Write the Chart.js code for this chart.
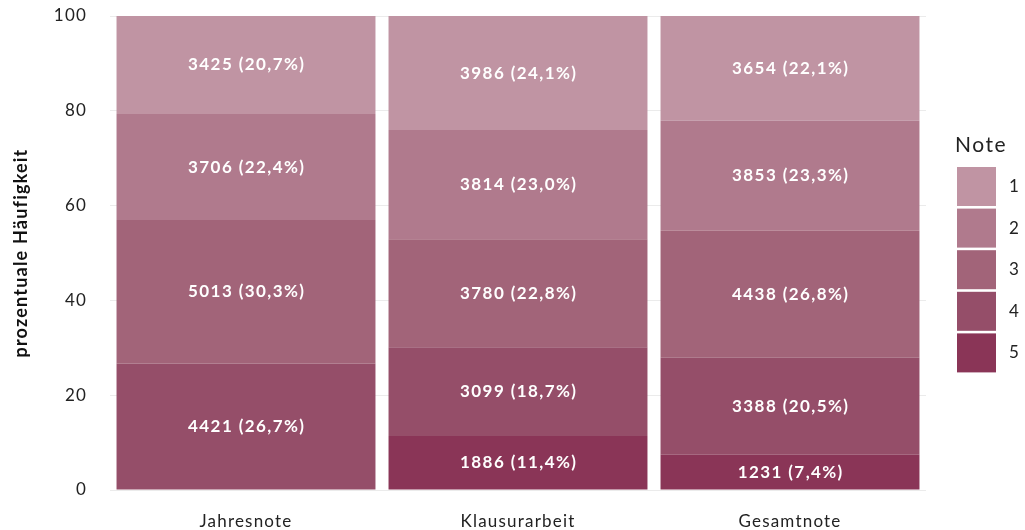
<!DOCTYPE html>
<html><head><meta charset="utf-8">
<script src="https://cdn.jsdelivr.net/npm/chart.js@4"></script>
<style>html,body{margin:0;padding:0;background:#fff}#wrap{width:1025px;height:530px}</style>
</head><body><div id="wrap"><canvas id="c" width="1025" height="530"></canvas></div>
<script>
const categories = ['Jahresnote', 'Klausurarbeit', 'Gesamtnote'];
const noten = ['5', '4', '3', '2', '1'];
const note5 = [0, 1886, 1231];
const note4 = [4421, 3099, 3388];
const note3 = [5013, 3780, 4438];
const note2 = [3706, 3814, 3853];
const note1 = [3425, 3986, 3654];
const yTicks = [0, 20, 40, 60, 80, 100];
const colors = ['#8a3557', '#954e69', '#a26479', '#b07a8d', '#c094a3'];

const counts = [note5, note4, note3, note2, note1];
const totals = categories.map((_, i) => counts.reduce((s, a) => s + a[i], 0));
const FONT = 'Lato, "DejaVu Sans", sans-serif';

const datasets = counts.map((arr, k) => ({
  label: noten[k],
  data: arr.map((v, i) => v / totals[i] * 100),
  counts: arr,
  backgroundColor: colors[k],
  borderWidth: 0,
  barPercentage: 0.952,
  categoryPercentage: 1.0
}));

const spacingPlugin = {
  id: 'spacing',
  beforeDraw(chart) { chart.ctx.letterSpacing = '1.2px'; }
};

const labelPlugin = {
  id: 'segLabels',
  afterDatasetsDraw(chart) {
    const ctx = chart.ctx;
    ctx.save();
    ctx.letterSpacing = '1.4px';
    ctx.font = 'bold 17px ' + FONT;
    ctx.fillStyle = '#ffffff';
    ctx.textAlign = 'center';
    ctx.textBaseline = 'middle';
    chart.data.datasets.forEach((ds, di) => {
      const meta = chart.getDatasetMeta(di);
      meta.data.forEach((el, i) => {
        const c = ds.counts[i];
        if (!c) return;
        const pct = (ds.data[i]).toFixed(1).replace('.', ',');
        ctx.fillText(c + ' (' + pct + '%)', el.x + 0.7, (el.y + el.base) / 2);
      });
    });
    ctx.restore();
  }
};

const legendPlugin = {
  id: 'customLegend',
  afterDraw(chart) {
    const ctx = chart.ctx;
    ctx.save();
    ctx.fillStyle = '#222';
    ctx.letterSpacing = '1.5px';
    ctx.font = '21px ' + FONT;
    ctx.textAlign = 'left';
    ctx.textBaseline = 'middle';
    ctx.fillText('Note', 955, 145);
    const dss = chart.data.datasets.slice().reverse();
    ctx.letterSpacing = '0px';
    ctx.font = '17px ' + FONT;
    dss.forEach((ds, i) => {
      const y = 167 + i * 41.6;
      ctx.fillStyle = ds.backgroundColor;
      ctx.fillRect(957, y, 39, 39);
      ctx.fillStyle = '#222';
      ctx.fillText(ds.label, 1009, y + 19.5);
    });
    ctx.restore();
  }
};

new Chart(document.getElementById('c'), {
  type: 'bar',
  data: { labels: categories, datasets },
  plugins: [spacingPlugin, labelPlugin, legendPlugin],
  options: {
    responsive: false,
    animation: false,
    layout: { padding: { top: 16, right: 99, left: 0, bottom: 0 } },
    plugins: { legend: { display: false }, tooltip: { enabled: false } },
    scales: {
      x: {
        stacked: true,
        grid: { display: false, drawTicks: false },
        border: { display: false },
        ticks: { color: '#222', font: { family: FONT, size: 17 }, padding: 21 },
        afterFit(s) { s.height = 40; s.paddingLeft = 0; s.paddingRight = 0; }
      },
      y: {
        stacked: true,
        min: 0, max: 100,
        afterBuildTicks(s) { s.ticks = yTicks.map(v => ({ value: v })); },
        grid: { color: '#ebebeb', drawTicks: false, lineWidth: 1 },
        border: { display: false },
        ticks: { color: '#222', font: { family: FONT, size: 17 }, padding: 23 },
        title: { display: true, text: 'prozentuale Häufigkeit', color: '#111', font: { family: FONT, size: 18, weight: 'bold' }, padding: { top: 10, bottom: 0 } },
        afterFit(s) { s.width = 110; s.paddingTop = 0; s.paddingBottom = 0; }
      }
    }
  }
});
</script></body></html>
